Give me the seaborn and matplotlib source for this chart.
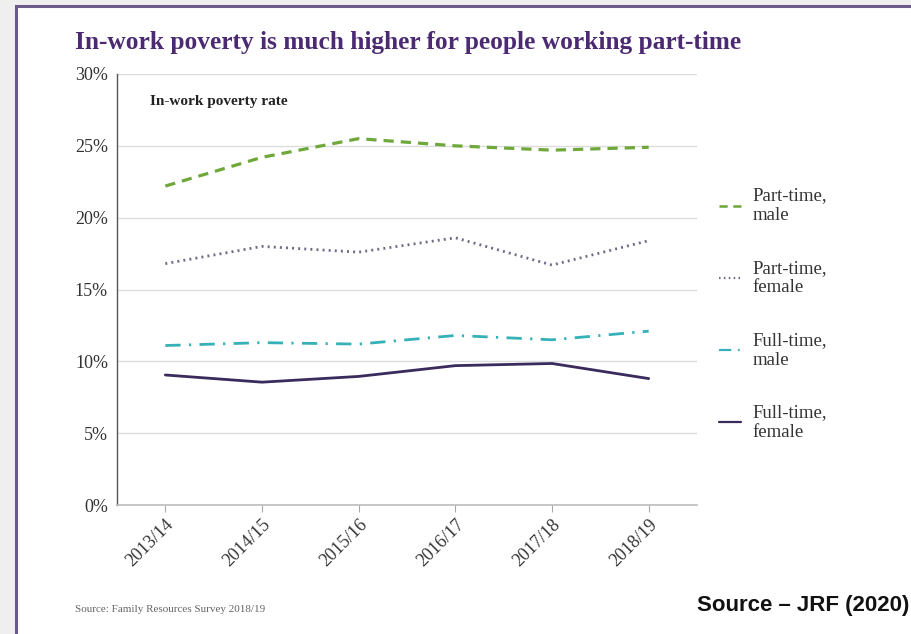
import matplotlib
matplotlib.use("Agg")
import matplotlib.pyplot as plt
from matplotlib.patches import Rectangle
from matplotlib.lines import Line2D
import numpy as np
import pandas as pd
import seaborn as sns

# In-work poverty rate (%) by working pattern and sex
years = ["2013/14", "2014/15", "2015/16", "2016/17", "2017/18", "2018/19"]
part_time_male = [22.2, 24.2, 25.5, 25.0, 24.7, 24.9]
part_time_female = [16.8, 18.0, 17.6, 18.6, 16.7, 18.4]
full_time_male = [11.1, 11.3, 11.2, 11.8, 11.5, 12.1]
full_time_female = [9.05, 8.55, 8.95, 9.7, 9.85, 8.8]

series_names = ["Part-time,\nmale", "Part-time,\nfemale", "Full-time,\nmale", "Full-time,\nfemale"]
y_ticks = [0, 5, 10, 15, 20, 25, 30]

df = pd.DataFrame({
    "year": years * 4,
    "rate": part_time_male + part_time_female + full_time_male + full_time_female,
    "series": np.repeat(series_names, len(years)),
})

colors = {
    series_names[0]: "#6fa83a",
    series_names[1]: "#6e6a86",
    series_names[2]: "#35b1b7",
    series_names[3]: "#3b2a5c",
}
dashes = {
    series_names[0]: (3.2, 2.2),
    series_names[1]: (0.7, 1.5),
    series_names[2]: (5.5, 3.0, 0.8, 3.0),
    series_names[3]: "",
}
widths = {series_names[0]: 2.3, series_names[1]: 2.0, series_names[2]: 2.0, series_names[3]: 2.0}

sns.set_theme(style="white")
plt.rcParams["font.family"] = ["Liberation Serif", "DejaVu Serif"]

fig = plt.figure(figsize=(9.11, 6.34), dpi=100)
fig.patch.set_facecolor("#efefef")

# white panel with purple frame
panel = Rectangle((16 / 911, -0.05), 1.0, 1 - 6 / 634 + 0.05, transform=fig.transFigure,
                  facecolor="white", edgecolor="#6b5a8c", linewidth=2.2, zorder=-10)
fig.patches.append(panel)

ax = fig.add_axes([117 / 911, 1 - 505 / 634, (697 - 117) / 911, (505 - 74) / 634])
ax.set_facecolor("none")

sns.lineplot(data=df, x="year", y="rate", hue="series", style="series",
             palette=colors, dashes=dashes, sort=False, ax=ax, legend=False)
for line, name in zip(ax.get_lines(), series_names):
    line.set_linewidth(widths[name])

ax.set_xlim(-0.5, 5.5)
ax.set_ylim(0, 30)
ax.set_yticks(y_ticks)
ax.set_yticklabels([f"{v}%" for v in y_ticks])
ax.yaxis.grid(True, color="#dcdcdc", linewidth=1.0)
ax.set_axisbelow(True)
ax.set_xlabel("")
ax.set_ylabel("")

for s in ["top", "right"]:
    ax.spines[s].set_visible(False)
ax.spines["left"].set_color("#555555")
ax.spines["left"].set_linewidth(1.0)
ax.spines["bottom"].set_color("#bdbdbd")
ax.spines["bottom"].set_linewidth(1.2)

ax.tick_params(axis="y", length=0, pad=6.5, labelsize=13, labelcolor="#333333")
ax.tick_params(axis="x", length=5, width=0.8, color="#aaaaaa", direction="out",
               bottom=True, labelsize=13, labelcolor="#333333", pad=3)
plt.setp(ax.get_xticklabels(), rotation=45, ha="right", rotation_mode="anchor")

fig.text(150 / 911, 1 - 101 / 634, "In-work poverty rate",
         fontsize=11, fontweight="bold", color="#222222", va="center", ha="left")

handles = []
for n in series_names:
    h = Line2D([0], [0], color=colors[n], linewidth=widths[n] * 0.8)
    if dashes[n]:
        h.set_dashes(dashes[n])
    handles.append(h)
leg = ax.legend(handles, series_names, loc="upper left", bbox_to_anchor=(711 / 911, 1 - 180 / 634),
                bbox_transform=fig.transFigure, frameon=False, fontsize=13.5, handlelength=1.2,
                handletextpad=0.6, labelspacing=1.9, borderaxespad=0)
for t in leg.get_texts():
    t.set_color("#333333")

fig.text(75 / 911, 1 - 42 / 634, "In-work poverty is much higher for people working part-time",
         fontsize=18.3, fontweight="bold", color="#4b2a72", va="center", ha="left")

fig.text(75 / 911, 1 - 609 / 634, "Source: Family Resources Survey 2018/19",
         fontsize=8, color="#666666", va="center", ha="left")

fig.text(909 / 911, 1 - 605 / 634, "Source \u2013 JRF (2020)", family=["Liberation Sans Narrow", "Liberation Sans"],
         fontsize=16, fontweight="bold", color="#111111", va="center", ha="right")

fig.savefig("out.png", dpi=100, facecolor=fig.get_facecolor())
